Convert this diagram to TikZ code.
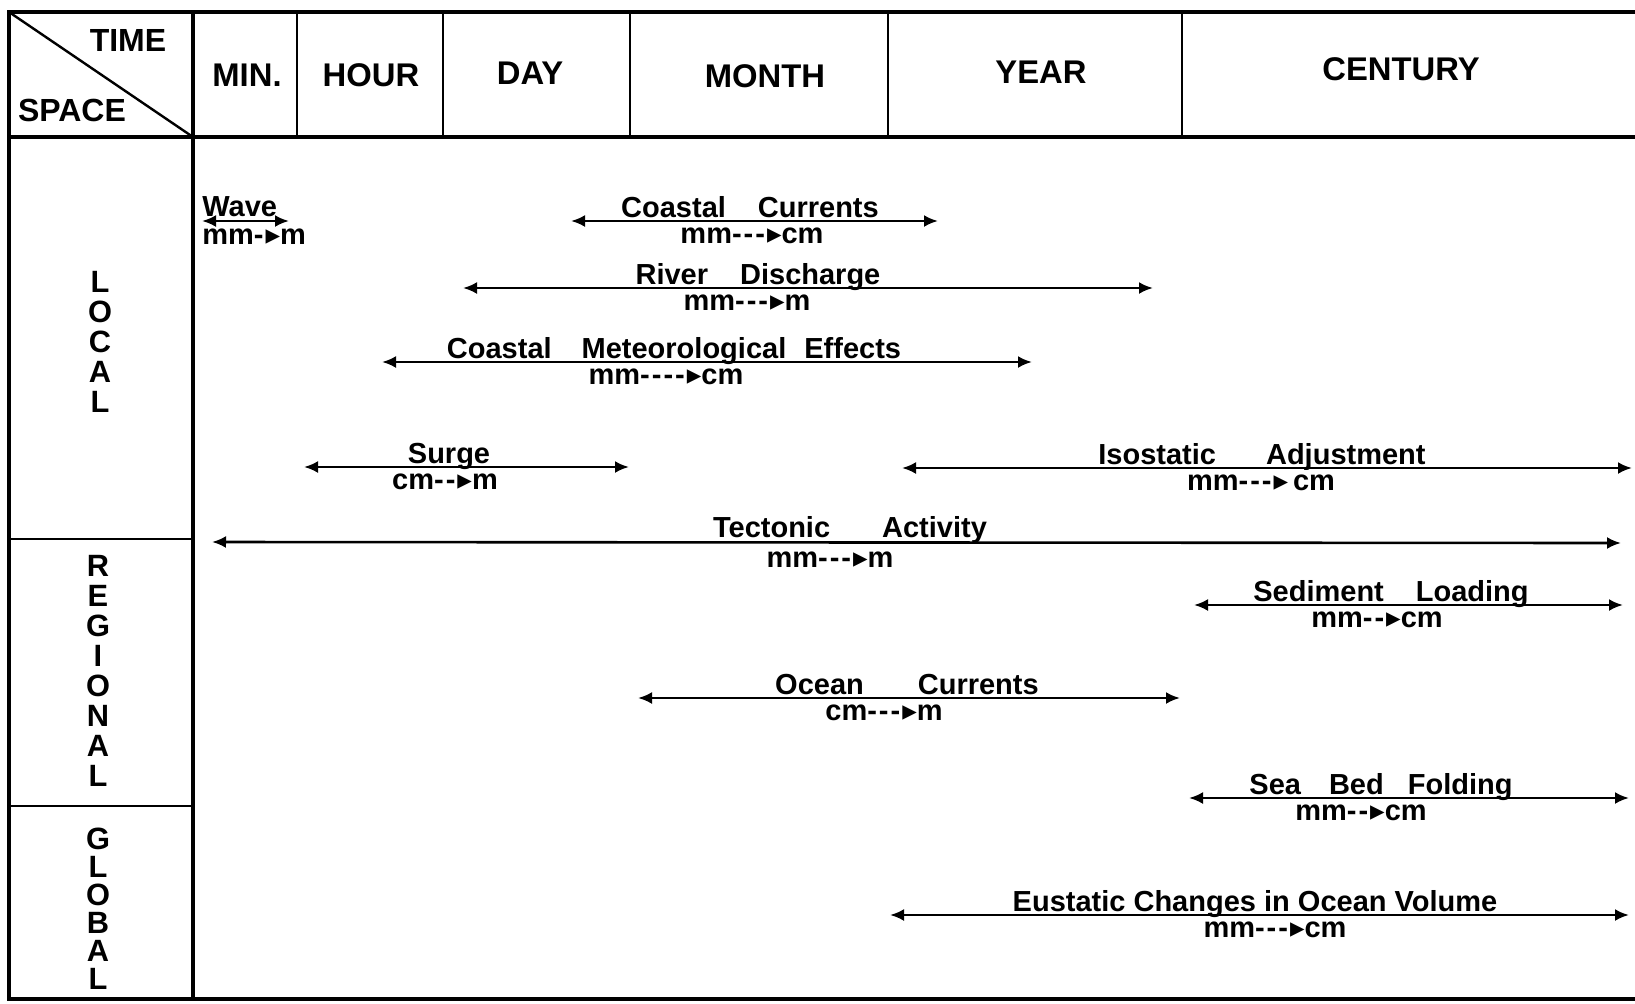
\documentclass[tikz,border=0pt]{standalone}
\usepackage{fontspec}
\setmainfont{Liberation Sans}
\newfontfamily\tipfont{DejaVu Sans}
\usetikzlibrary{arrows.meta}
\tikzset{
  frame/.style={line width=2pt},
  rule/.style={line width=1.2pt},
  colhead/.style={font=\fontsize{16.4}{18}\selectfont\bfseries, inner sep=0pt},
  rowhead/.style={font=\fontsize{15.4}{15}\selectfont\bfseries, align=center, inner sep=0pt},
  scalename/.style={font=\fontsize{14.5}{16}\selectfont\bfseries, anchor=base, inner sep=0pt},
  scalerange/.style={font=\fontsize{14.5}{16}\selectfont\bfseries, anchor=base, inner sep=0pt},
  span/.style={{Latex[length=7pt,width=6pt]}-{Latex[length=7pt,width=6pt]}, line width=1.3pt},
}
\newcommand{\dsh}{\mbox{-}\kern1pt}
\newcommand{\tip}{{\tipfont\char"25B8}}
\newcommand{\gap}[1]{\hspace*{#1pt}}

\begin{document}
\begin{tikzpicture}[x=0.5pt, y=-0.5pt]
  \useasboundingbox (0,0) rectangle (1635,1003);

  % table frame
  \draw[frame] (1635,12) -- (9,12) -- (9,999) -- (1635,999);
  \draw[frame] (9,137) -- (1635,137);
  \draw[frame] (193,12) -- (193,999);
  \draw[rule] (9,12) -- (193,137);
  \foreach \x in {297,443,630,888,1182}
    \draw[rule] (\x,12) -- (\x,137);
  \draw[rule] (9,539) -- (193,539);
  \draw[rule] (9,806) -- (193,806);

  % headings
  \node[colhead, font=\fontsize{16}{18}\selectfont\bfseries] (time) at (128,40) {TIME};
  \node[colhead, font=\fontsize{16}{18}\selectfont\bfseries] (space) at (72,110) {SPACE};
  \node[colhead] (min) at (247,75) {MIN.};
  \node[colhead] (hour) at (371,75) {HOUR};
  \node[colhead] (day) at (530,73) {DAY};
  \node[colhead] (month) at (765,76) {MONTH};
  \node[colhead] (year) at (1041,72) {YEAR};
  \node[colhead] (century) at (1401,69) {CENTURY};

  \node[rowhead] (local) at (100,342) {L\\O\\C\\A\\L};
  \node[rowhead] (regional) at (98,671) {R\\E\\G\\I\\O\\N\\A\\L};
  \node[rowhead, font=\fontsize{15.4}{14}\selectfont\bfseries] (global) at (98,909) {G\\L\\O\\B\\A\\L};

  % end points of the ranges
  \coordinate (wave-l) at (202,221);    \coordinate (wave-r) at (289,221);
  \coordinate (ccur-l) at (571,221);    \coordinate (ccur-r) at (938,221);
  \coordinate (river-l) at (463,288);   \coordinate (river-r) at (1153,288);
  \coordinate (cmet-l) at (382,362);    \coordinate (cmet-r) at (1032,362);
  \coordinate (surge-l) at (304,467);   \coordinate (surge-r) at (629,467);
  \coordinate (iso-l) at (902,468);     \coordinate (iso-r) at (1632,468);
  \coordinate (tect-l) at (212,542);    \coordinate (tect-r) at (1621,543);
  \coordinate (sed-l) at (1194,605);    \coordinate (sed-r) at (1623,605);
  \coordinate (ocean-l) at (638,698);   \coordinate (ocean-r) at (1180,698);
  \coordinate (seabed-l) at (1189,798); \coordinate (seabed-r) at (1629,798);
  \coordinate (eust-l) at (890,915);    \coordinate (eust-r) at (1629,915);

  % names and amplitudes
  \node[scalename, anchor=base west] (wave) at (202,216) {Wave};
  \node[scalerange, anchor=base west] (wave-a) at (202,244) {mm\dsh\tip m};
  \node[scalename] (ccur) at (750,217) {Coastal\gap{16}Currents};
  \node[scalerange] (ccur-a) at (752,243) {mm\dsh\dsh\dsh\tip cm};
  \node[scalename] (river) at (758,284) {River\gap{16}Discharge};
  \node[scalerange] (river-a) at (747,310) {mm\dsh\dsh\dsh\tip m};
  \node[scalename] (cmet) at (674,358) {Coastal\gap{15}Meteorological\gap{9}Effects};
  \node[scalerange] (cmet-a) at (666,384) {mm\dsh\dsh\dsh\dsh\tip cm};
  \node[scalename] (surge) at (449,463) {Surge};
  \node[scalerange] (surge-a) at (445,489) {cm\dsh\dsh\tip m};
  \node[scalename] (iso) at (1262,464) {Isostatic\gap{25}Adjustment};
  \node[scalerange] (iso-a) at (1261,490) {mm\dsh\dsh\dsh\tip\,cm};
  \node[scalename] (tect) at (850,537) {Tectonic\gap{26}Activity};
  \node[scalerange] (tect-a) at (830,567) {mm\dsh\dsh\dsh\tip m};
  \node[scalename] (sed) at (1391,601) {Sediment\gap{16}Loading};
  \node[scalerange] (sed-a) at (1377,627) {mm\dsh\dsh\tip cm};
  \node[scalename] (ocean) at (907,694) {Ocean\gap{27}Currents};
  \node[scalerange] (ocean-a) at (884,720) {cm\dsh\dsh\dsh\tip m};
  \node[scalename] (seabed) at (1381,794) {Sea\gap{14}Bed\gap{12}Folding};
  \node[scalerange] (seabed-a) at (1361,820) {mm\dsh\dsh\tip cm};
  \node[scalename] (eust) at (1255,911) {Eustatic Changes in Ocean Volume};
  \node[scalerange] (eust-a) at (1275,937) {mm\dsh\dsh\dsh\tip cm};

  % ranges
  \draw[span] (wave-l) -- (wave-r);
  \draw[span] (ccur-l) -- (ccur-r);
  \draw[span] (river-l) -- (river-r);
  \draw[span] (cmet-l) -- (cmet-r);
  \draw[span] (surge-l) -- (surge-r);
  \draw[span] (iso-l) -- (iso-r);
  \draw[span] (tect-l) -- (tect-r);
  \draw[span] (sed-l) -- (sed-r);
  \draw[span] (ocean-l) -- (ocean-r);
  \draw[span] (seabed-l) -- (seabed-r);
  \draw[span] (eust-l) -- (eust-r);
\end{tikzpicture}
\end{document}
